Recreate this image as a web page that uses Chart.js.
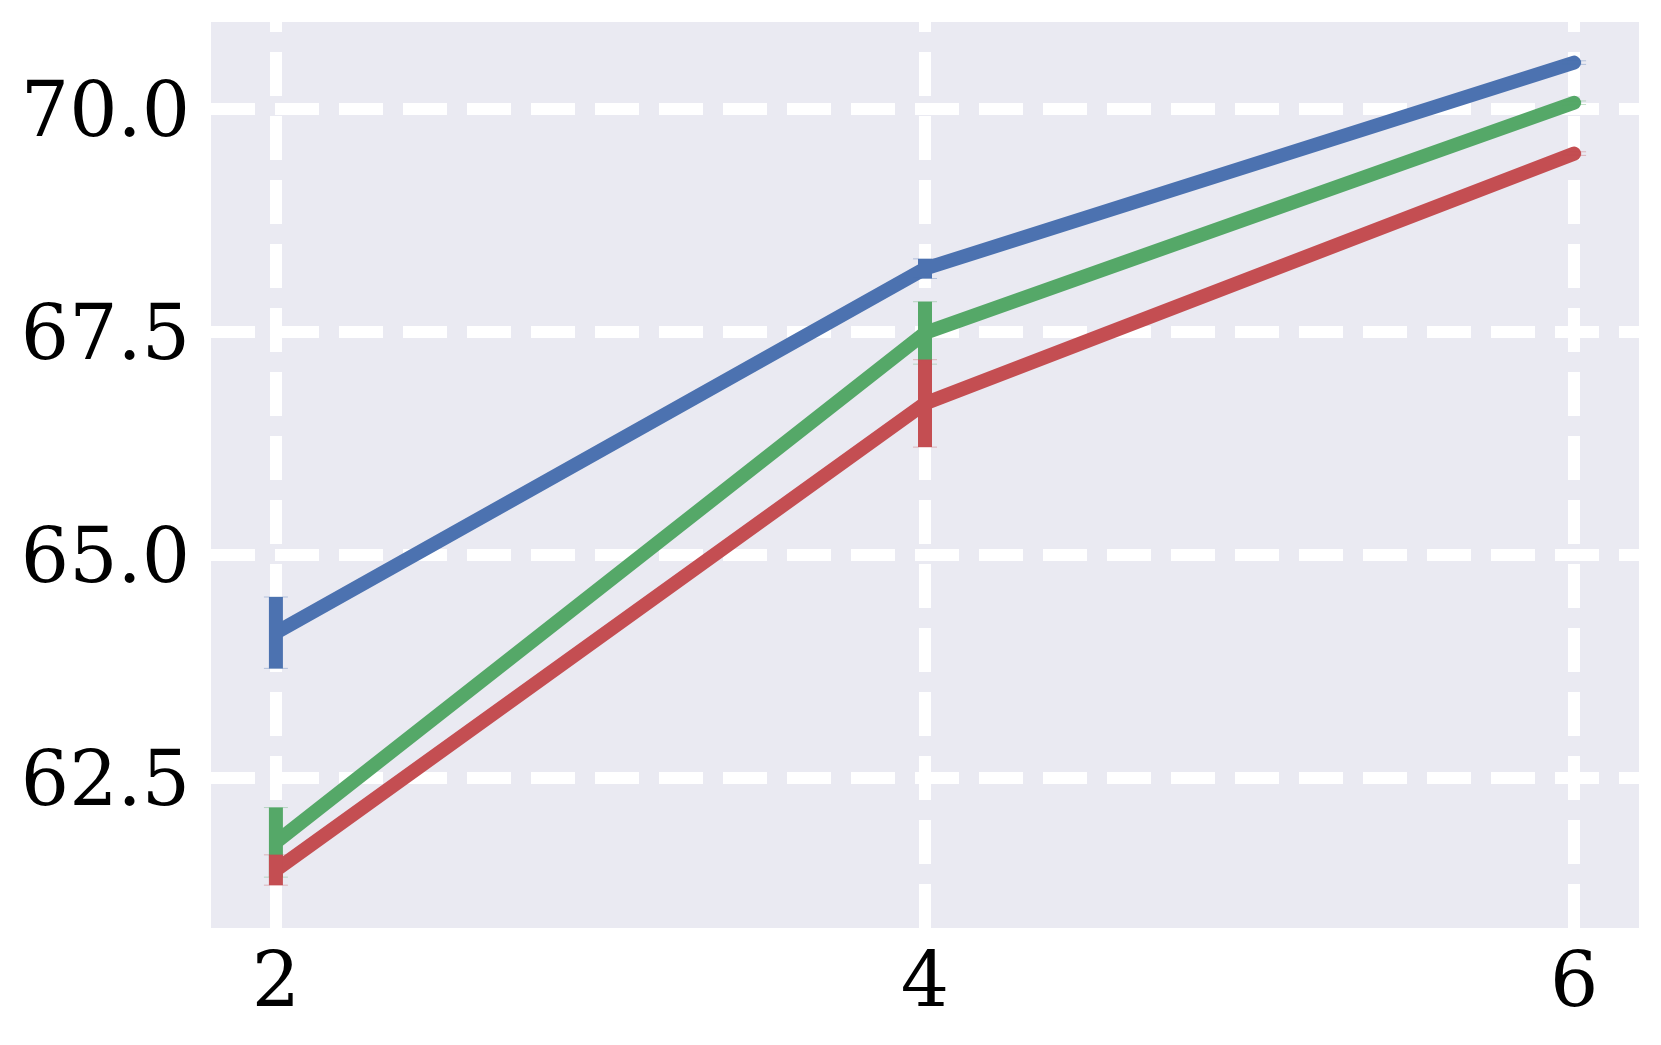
<!DOCTYPE html>
<html lang="en">
<head>
    <meta charset="UTF-8">
    <title>Line chart with error bars</title>
    <script src="https://cdn.jsdelivr.net/npm/chart.js@4.4.0/dist/chart.umd.min.js"></script>
    <style>
        html, body { margin: 0; padding: 0; background: #ffffff; }
        #wrap { width: 1661px; height: 1045px; }
    </style>
</head>
<body>
    <div id="wrap"><canvas id="chart" width="1661" height="1045"></canvas></div>

    <script>
        // x positions and tick labels
        const xValues = [2, 4, 6];
        const xTicks = [2, 4, 6];
        const yTicks = [62.5, 65.0, 67.5, 70.0];

        // series values and their error half-widths
        const blueValues = [64.13, 68.21, 70.52];
        const blueErr = [0.40, 0.11, 0.02];
        const greenValues = [61.78, 67.49, 70.07];
        const greenErr = [0.39, 0.35, 0.02];
        const redValues = [61.47, 66.70, 69.50];
        const redErr = [0.17, 0.49, 0.02];

        const BLUE = '#4C72B0';
        const GREEN = '#55A868';
        const RED = '#C44E52';

        const toPoints = vals => vals.map((v, i) => ({ x: xValues[i], y: v }));

        // plot background (seaborn darkgrid look)
        const bgPlugin = {
            id: 'plotBg',
            beforeDraw(chart) {
                const { ctx, chartArea: a } = chart;
                ctx.save();
                ctx.fillStyle = '#ffffff';
                ctx.fillRect(0, 0, chart.width, chart.height);
                ctx.fillStyle = '#EAEAF2';
                ctx.fillRect(a.left, a.top, a.right - a.left, a.bottom - a.top);
                ctx.restore();
            }
        };

        // vertical error bars, drawn right after each dataset's line
        const errPlugin = {
            id: 'errBars',
            afterDatasetDraw(chart, args) {
                const ds = chart.data.datasets[args.index];
                if (!ds.errors) return;
                const { ctx, scales: { x, y } } = chart;
                ctx.save();
                ds.data.forEach((p, i) => {
                    const px = x.getPixelForValue(p.x);
                    const top = y.getPixelForValue(p.y + ds.errors[i]);
                    const bot = y.getPixelForValue(p.y - ds.errors[i]);
                    ctx.strokeStyle = ds.borderColor;
                    ctx.lineWidth = 14;
                    ctx.lineCap = 'butt';
                    ctx.beginPath();
                    ctx.moveTo(px, top);
                    ctx.lineTo(px, bot);
                    ctx.stroke();
                    // thin caps
                    ctx.globalAlpha = 0.35;
                    ctx.lineWidth = 1;
                    ctx.beginPath();
                    ctx.moveTo(px - 12, top); ctx.lineTo(px + 12, top);
                    ctx.moveTo(px - 12, bot); ctx.lineTo(px + 12, bot);
                    ctx.stroke();
                    ctx.globalAlpha = 1;
                });
                ctx.restore();
            }
        };

        const lineStyle = color => ({
            borderColor: color,
            backgroundColor: color,
            borderWidth: 14,
            borderCapStyle: 'round',
            borderJoinStyle: 'round',
            pointRadius: 0,
            fill: false,
            tension: 0
        });

        const tickFont = { family: 'DejaVu Serif', size: 76 };

        new Chart(document.getElementById('chart'), {
            type: 'line',
            data: {
                datasets: [
                    { label: 'blue', data: toPoints(blueValues), errors: blueErr, order: 2, ...lineStyle(BLUE) },
                    { label: 'green', data: toPoints(greenValues), errors: greenErr, order: 1, ...lineStyle(GREEN) },
                    { label: 'red', data: toPoints(redValues), errors: redErr, order: 0, ...lineStyle(RED) }
                ]
            },
            options: {
                responsive: false,
                animation: false,
                layout: { padding: { top: 22, right: 22, left: 0, bottom: 0 } },
                plugins: { legend: { display: false }, tooltip: { enabled: false } },
                scales: {
                    x: {
                        type: 'linear',
                        min: 1.8,
                        max: 6.2,
                        afterBuildTicks: s => { s.ticks = xTicks.map(v => ({ value: v })); },
                        afterFit: s => { s.height = 117; s.paddingLeft = 0; s.paddingRight = 0; },
                        grid: { color: '#ffffff', lineWidth: 12, drawTicks: false },
                        border: { display: false, dash: [44, 20], dashOffset: 34 },
                        ticks: { font: tickFont, color: '#000000', padding: 13, maxRotation: 0,
                                 callback: v => String(v) }
                    },
                    y: {
                        type: 'linear',
                        min: 60.82,
                        max: 70.975,
                        afterBuildTicks: s => { s.ticks = yTicks.map(v => ({ value: v })); },
                        afterFit: s => { s.width = 211; s.paddingTop = 0; s.paddingBottom = 0; },
                        grid: { color: '#ffffff', lineWidth: 12, drawTicks: false },
                        border: { display: false, dash: [44, 20], dashOffset: 0 },
                        ticks: { font: tickFont, color: '#000000', padding: 21, labelOffset: 7,
                                 callback: v => v.toFixed(1) }
                    }
                }
            },
            plugins: [bgPlugin, errPlugin]
        });
    </script>
</body>
</html>
